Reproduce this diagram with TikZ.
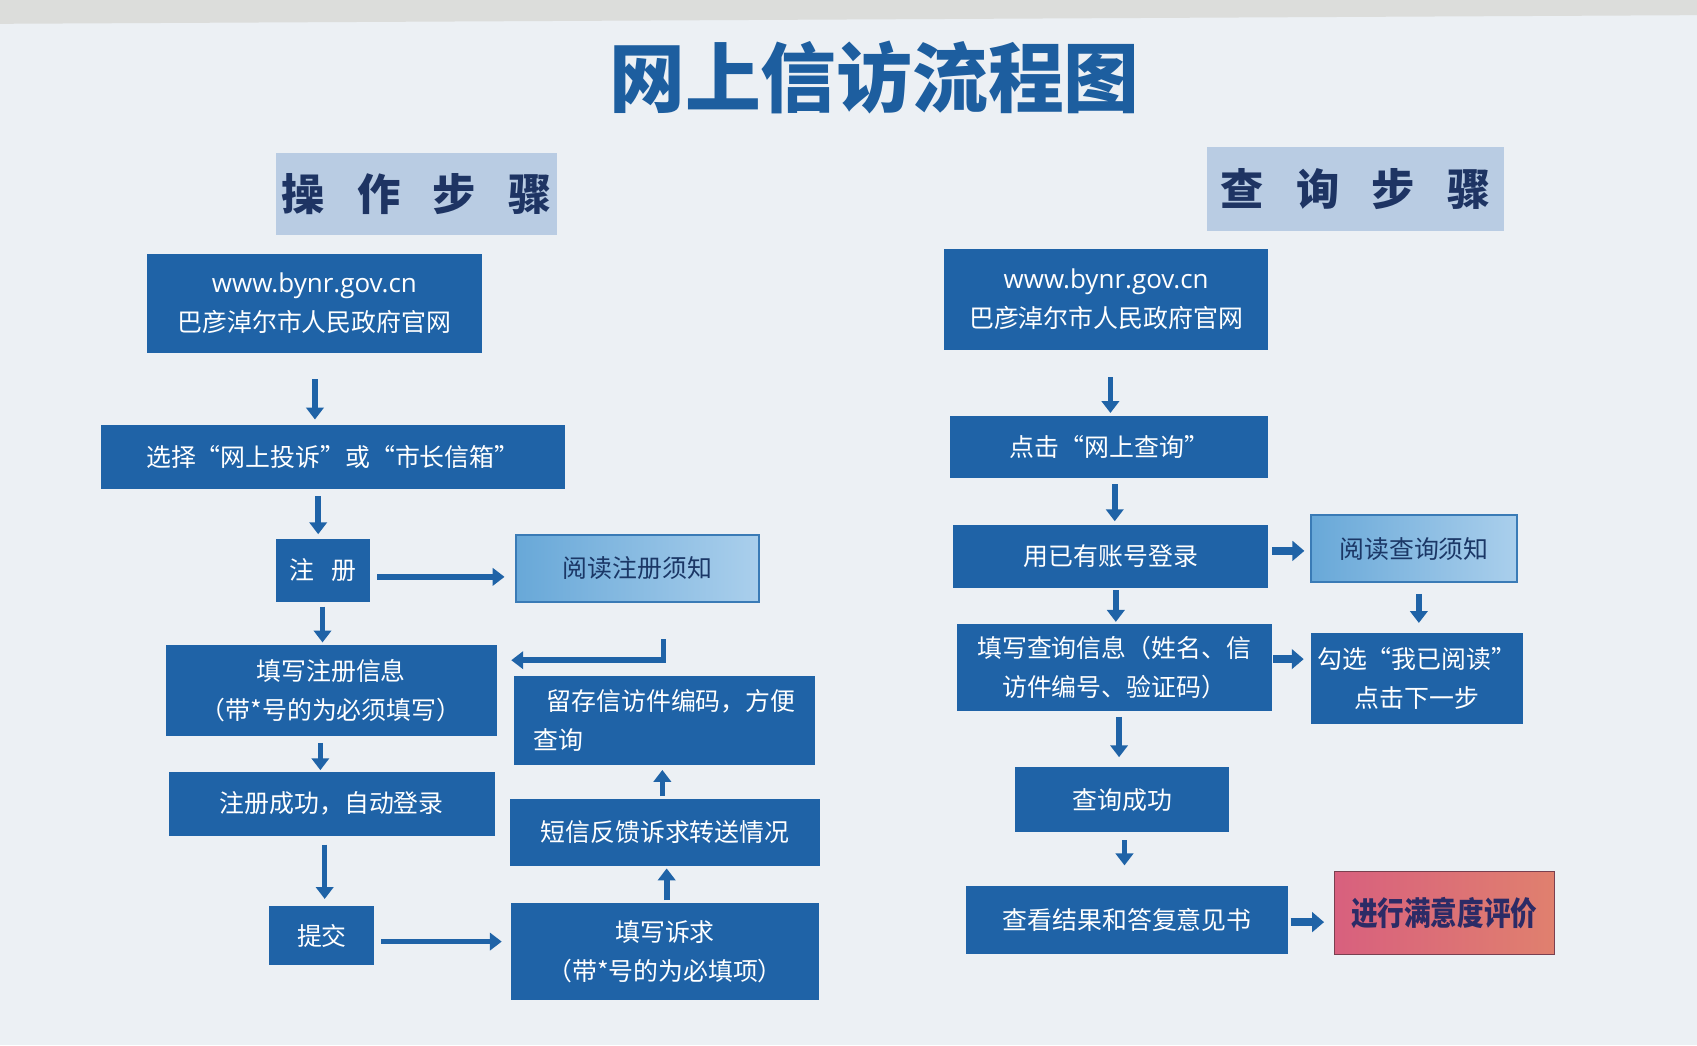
\documentclass[tikz,border=0pt]{standalone}
\usepackage{fontspec}
\setmainfont{Noto Sans CJK SC}
\newfontfamily\urlfont{Open Sans}
\usetikzlibrary{arrows.meta}
\definecolor{boxblue}{HTML}{1F63A7}
\definecolor{hdrfill}{HTML}{B9CCE3}
\definecolor{hdrtext}{HTML}{1E3463}
\definecolor{titleblue}{HTML}{1D5E9F}
\definecolor{bgcol}{HTML}{ECF0F4}
\definecolor{topstrip}{HTML}{DCDDDB}
\definecolor{darktext}{HTML}{1B3766}
\definecolor{evaltext}{HTML}{2C2B66}
\definecolor{lightL}{HTML}{68A8D8}
\definecolor{lightR}{HTML}{AACFEC}
\definecolor{lightborder}{HTML}{3A7BB6}
\definecolor{pinkL}{HTML}{D8607E}
\definecolor{pinkR}{HTML}{E0806E}
\definecolor{pinkborder}{HTML}{7A4050}
\begin{document}
\begin{tikzpicture}[x=0.5pt,y=-0.5pt,
  sz/.style 2 args={minimum width=#1*0.5pt, minimum height=#2*0.5pt, inner sep=0pt},
  bluebox/.style={fill=boxblue, text=white, align=center, font=\fontsize{11.5pt}{18pt}\selectfont},
  lightbox/.style={left color=lightL, right color=lightR, draw=lightborder, line width=0.8pt, text=darktext, align=center, font=\fontsize{11.5pt}{18pt}\selectfont},
  hdr/.style={fill=hdrfill, text=hdrtext, font=\fontsize{20pt}{24pt}\selectfont\bfseries},
  arr/.style={draw=boxblue, line width=2.6pt, -{Triangle[width=8pt,length=5.5pt]}},
  fatarr/.style={draw=boxblue, line width=3.4pt, -{Triangle[width=9pt,length=5.5pt]}},
]
\useasboundingbox (0,0) rectangle (1568,966);
\fill[bgcol] (0,0) rectangle (1568,966);
\fill[topstrip] (0,0) -- (1568,0) -- (1568,14) -- (0,22) -- cycle;

% title
\node[font=\fontsize{35pt}{40pt}\selectfont\bfseries, text=titleblue] (title) at (808,72) {网上信访流程图};

% headers
\node[hdr, sz={260}{76}] (H1) at (385,179) {操\hspace{15pt}作\hspace{15pt}步\hspace{15pt}骤};
\node[hdr, sz={275}{77}] (H2) at (1252.5,174.5) {查\hspace{15pt}询\hspace{15pt}步\hspace{15pt}骤};

% left column
\node[bluebox, sz={309}{91}] (L1) at (290.5,280.5) {{\urlfont\fontsize{12pt}{14pt}\selectfont www.bynr.gov.cn}\\巴彦淖尔市人民政府官网};
\node[bluebox, sz={429}{59}] (L2) at (307.5,422.5) {选择“网上投诉”或“市长信箱”};
\node[bluebox, sz={87}{58}] (L3) at (298.5,527) {注\hspace{8pt}册};
\node[lightbox, sz={224}{62}] (L4) at (589,525) {阅读注册须知};
\node[bluebox, sz={306}{84}] (L5) at (306,638) {填写注册信息\\（带*号的为必须填写）};
\node[bluebox, sz={278}{82}, align=left] (L6) at (614,666) {\hspace*{6pt}留存信访件编码，方便\\查询};
\node[bluebox, sz={301}{59}] (L7) at (306.5,742.5) {注册成功，自动登录};
\node[bluebox, sz={97}{55}] (L8) at (297.5,864.5) {提交};
\node[bluebox, sz={285}{90}] (L9) at (614.5,879) {填写诉求\\（带*号的为必填项）};
\node[bluebox, sz={287}{62}] (L10) at (614.5,769) {短信反馈诉求转送情况};

% right column
\node[bluebox, sz={300}{93}] (R1) at (1022,276.5) {{\urlfont\fontsize{12pt}{14pt}\selectfont www.bynr.gov.cn}\\巴彦淖尔市人民政府官网};
\node[bluebox, sz={294}{58}] (R2) at (1025,413) {点击“网上查询”};
\node[bluebox, sz={291}{58}] (R3) at (1026.5,514) {用已有账号登录};
\node[lightbox, sz={191}{62}] (R4) at (1306.5,507) {阅读查询须知};
\node[bluebox, sz={291}{80}] (R5) at (1029.5,617) {填写查询信息（姓名、信\\访件编号、验证码）};
\node[bluebox, sz={196}{84}] (R6) at (1309,627) {勾选“我已阅读”\\点击下一步};
\node[bluebox, sz={198}{60}] (R7) at (1037,739) {查询成功};
\node[bluebox, sz={297}{62}] (R8) at (1041.5,850) {查看结果和答复意见书};
\node[left color=pinkL, right color=pinkR, draw=pinkborder, line width=0.6pt, sz={203}{77}] (R9) at (1334.5,843.5) {};
\node[font=\fontsize{15pt}{18pt}\selectfont\bfseries, text=evaltext, xscale=0.82, transform shape] (R9t) at (R9.center) {进行满意度评价};

% left arrows
\draw[arr] ([shift={(0.5,24)}]L1.south) -- ([shift={(-16.5,-5)}]L2.north);
\draw[arr] ([shift={(-13.5,6)}]L2.south) -- ([shift={(-4.5,-4)}]L3.north);
\draw[arr] ([shift={(6,6)}]L3.east) -- ([shift={(-10,8)}]L4.west);
\draw[arr] ([shift={(-0.5,4)}]L3.south) -- ([shift={(-8,-2)}]L5.north);
\draw[arr] ([shift={(24,34)}]L4.south) |- ([shift={(13,-28)}]L5.east);
\draw[arr] ([shift={(-10,6)}]L5.south) -- ([shift={(-10.5,-1)}]L7.north);
\draw[arr] ([shift={(-6.5,8)}]L7.south) -- ([shift={(2.5,-6)}]L8.north);
\draw[arr] ([shift={(6,5.5)}]L8.east) -- ([shift={(-8,-9)}]L9.west);
\draw[arr] ([shift={(1.5,-2)}]L9.north) -- ([shift={(1.5,2)}]L10.south);
\draw[arr] ([shift={(-2.5,-2)}]L10.north) -- ([shift={(-2,4)}]L6.south);

% right arrows
\draw[arr] ([shift={(4,25)}]R1.south) -- ([shift={(1,-2)}]R2.north);
\draw[arr] ([shift={(5,5)}]R2.south) -- ([shift={(3.5,-3)}]R3.north);
\draw[fatarr] ([shift={(3,-5)}]R3.east) -- ([shift={(-5,2)}]R4.west);
\draw[arr] ([shift={(4.5,2)}]R3.south) -- ([shift={(1.5,-2)}]R5.north);
\draw[arr] ([shift={(4.5,10)}]R4.south) -- ([shift={(2,-9)}]R6.north);
\draw[fatarr] ([shift={(1,-8)}]R5.east) -- ([shift={(-6,-18)}]R6.west);
\draw[arr] ([shift={(4.5,5)}]R5.south) -- ([shift={(-3,-9)}]R7.north);
\draw[arr] ([shift={(2,7)}]R7.south) -- ([shift={(-2.5,-19)}]R8.north);
\draw[fatarr] ([shift={(2,2)}]R8.east) -- ([shift={(-9,8.5)}]R9.west);
\end{tikzpicture}
\end{document}
